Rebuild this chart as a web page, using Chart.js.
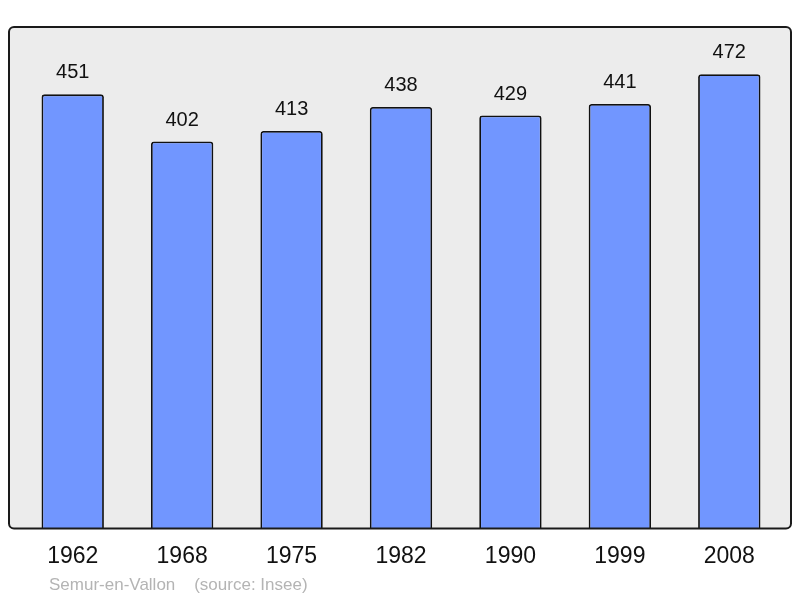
<!DOCTYPE html>
<html>
<head>
<meta charset="utf-8">
<script src="https://cdn.jsdelivr.net/npm/chart.js@4/dist/chart.umd.min.js"></script>
<style>
  html, body { margin: 0; padding: 0; background: #fff; }
  #wrap { width: 800px; height: 598px; }
</style>
</head>
<body>
<div id="wrap"><canvas id="popChart" width="800" height="598"></canvas></div>
<script>
const years = ['1962', '1968', '1975', '1982', '1990', '1999', '2008'];
const population = [451, 402, 413, 438, 429, 441, 472];
const sourceText = 'Semur-en-Vallon    (source: Insee)';

const frame = {
  id: 'frame',
  beforeDraw(chart) {
    const { ctx, chartArea } = chart;
    const x = chartArea.left - 9, y = chartArea.top;
    const w = chartArea.right + 7 - x, h = chartArea.bottom - y;
    ctx.save();
    ctx.beginPath();
    ctx.roundRect(x, y, w, h, 5);
    ctx.fillStyle = '#ececec';
    ctx.fill();
    ctx.restore();
  },
  afterDatasetsDraw(chart) {
    const { ctx, chartArea } = chart;
    const x = chartArea.left - 9, y = chartArea.top;
    const w = chartArea.right + 7 - x, h = chartArea.bottom - y;
    ctx.save();
    ctx.beginPath();
    ctx.roundRect(x, y, w, h, 5);
    ctx.lineWidth = 2;
    ctx.strokeStyle = '#1a1a1a';
    ctx.stroke();

    // value labels over the bars
    const meta = chart.getDatasetMeta(0);
    ctx.fillStyle = '#111';
    ctx.font = '20px "Liberation Sans", Arial, sans-serif';
    ctx.textAlign = 'center';
    ctx.textBaseline = 'alphabetic';
    meta.data.forEach((bar, i) => {
      ctx.fillText(population[i], bar.x, bar.y - 16);
    });

    // source line
    ctx.fillStyle = '#b4b4b4';
    ctx.font = '17px "Liberation Sans", Arial, sans-serif';
    ctx.textAlign = 'left';
    ctx.fillText(sourceText, 49, 590);
    ctx.restore();
  }
};

new Chart(document.getElementById('popChart'), {
  type: 'bar',
  data: {
    labels: years,
    datasets: [{
      data: population,
      backgroundColor: '#7196ff',
      borderColor: '#111',
      borderWidth: 1.8,
      borderRadius: 3,
      borderSkipped: 'bottom',
      barPercentage: 0.57,
      categoryPercentage: 1
    }]
  },
  options: {
    responsive: false,
    animation: false,
    layout: { padding: { left: 18, right: 16, top: 27, bottom: 14 } },
    plugins: { legend: { display: false }, tooltip: { enabled: false } },
    scales: {
      x: {
        grid: { display: false, drawTicks: false },
        border: { display: false },
        ticks: {
          color: '#111',
          padding: 14,
          font: { size: 23, family: '"Liberation Sans", Arial, sans-serif' }
        }
      },
      y: {
        display: false,
        min: 0,
        max: 521
      }
    }
  },
  plugins: [frame]
});
</script>
</body>
</html>
